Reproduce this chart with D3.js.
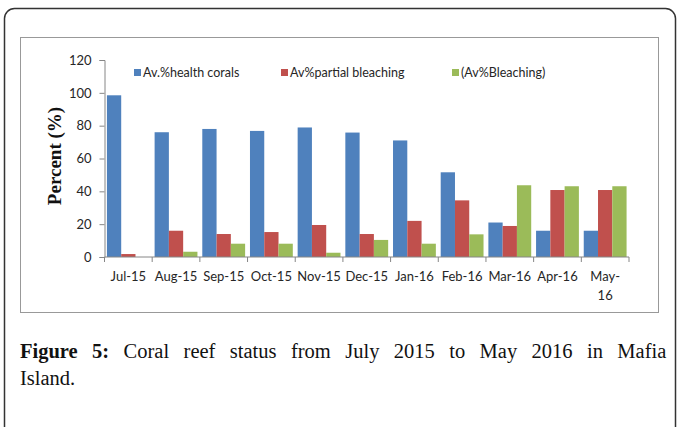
<html>
<head>
<script src="https://d3js.org/d3.v7.min.js"></script>
<style>
  body { margin: 0; background: white; }
  .tick text { font-family: Lato, sans-serif; font-size: 13px; fill: #262626; }
  .legend text { font-family: Lato, sans-serif; font-size: 12.5px; fill: #262626; }
  .caption { font-family: "Liberation Serif", serif; font-size: 20.5px; fill: #111; }
</style>
</head>
<body>
<svg id="chart" width="677" height="427"></svg>
<script>
const months = ["Jul-15","Aug-15","Sep-15","Oct-15","Nov-15","Dec-15","Jan-16","Feb-16","Mar-16","Apr-16","May-16"];
const seriesNames = ["Av.%health corals","Av%partial bleaching","(Av%Bleaching)"];
const healthy = [98.5, 76, 78, 76.8, 78.9, 75.8, 71, 51.6, 21, 16, 16];
const partial = [1.8, 16, 14, 15.2, 19.5, 14, 22, 34.5, 18.9, 40.8, 40.8];
const bleached = [0, 3.2, 8.1, 8.1, 2.6, 10.4, 8.1, 13.8, 43.7, 43.1, 43.1];
const yTicks = [0, 20, 40, 60, 80, 100, 120];
const colors = ["#4F81BD", "#C0504D", "#9BBB59"];

const svg = d3.select("#chart");

// outer frame and chart box
svg.append("rect").attr("x", 4.5).attr("y", 8.5).attr("width", 671).attr("height", 440)
  .attr("rx", 10).attr("fill", "none").attr("stroke", "#333").attr("stroke-width", 1.5);
svg.append("rect").attr("x", 20.5).attr("y", 37.5).attr("width", 638).attr("height", 275)
  .attr("fill", "none").attr("stroke", "#999").attr("stroke-width", 1);

const plotL = 104.5, plotR = 629, plotT = 60, plotB = 257;
const x = d3.scaleBand().domain(months).range([plotL, plotR]);
const xs = d3.scaleBand().domain(seriesNames).range([0, x.bandwidth()]).paddingInner(0).paddingOuter(0.17);
const y = d3.scaleLinear().domain([0, 120]).range([plotB, plotT]);

const table = months.map((m, i) => ({ month: m, values: [healthy[i], partial[i], bleached[i]] }));

svg.append("g").selectAll("g").data(table).join("g")
  .attr("transform", d => `translate(${x(d.month)},0)`)
  .selectAll("rect").data(d => d.values.map((v, j) => ({ name: seriesNames[j], v, j })))
  .join("rect")
  .attr("x", d => xs(d.name))
  .attr("width", xs.bandwidth())
  .attr("y", d => y(d.v))
  .attr("height", d => y(0) - y(d.v))
  .attr("fill", d => colors[d.j]);

// y axis
const yAxis = svg.append("g").attr("transform", `translate(${plotL},0)`)
  .call(d3.axisLeft(y).tickValues(yTicks).tickSize(5).tickPadding(8));
yAxis.select(".domain").attr("stroke", "#868686");
yAxis.selectAll(".tick line").attr("stroke", "#868686");

// x axis
const xAxis = svg.append("g").attr("transform", `translate(0,${plotB})`)
  .call(d3.axisBottom(x).tickSize(0).tickPadding(15));
xAxis.select(".domain").attr("stroke", "#868686").attr("d", `M${plotL},0H${plotR}`);
xAxis.selectAll(".tick line").remove();
xAxis.append("g").selectAll("line").data(months.concat([null])).join("line")
  .attr("x1", (d, i) => plotL + i * x.step()).attr("x2", (d, i) => plotL + i * x.step())
  .attr("y1", 0).attr("y2", 5).attr("stroke", "#868686");
xAxis.selectAll(".tick text").each(function(d) {
  if (d === "May-16") {
    const t = d3.select(this).text(null);
    t.append("tspan").attr("x", 0).text("May-");
    t.append("tspan").attr("x", 0).attr("dy", "1.45em").text("16");
  }
});

// y label
svg.append("text")
  .attr("transform", "translate(61,156) rotate(-90)")
  .attr("text-anchor", "middle")
  .attr("font-family", "Liberation Serif, serif").attr("font-weight", "bold").attr("font-size", 19)
  .attr("fill", "#111").text("Percent (%)");

// legend
const legX = [134, 281, 452];
const leg = svg.append("g").attr("class", "legend");
seriesNames.forEach((n, i) => {
  leg.append("rect").attr("x", legX[i]).attr("y", 69).attr("width", 7).attr("height", 7).attr("fill", colors[i]);
  leg.append("text").attr("x", legX[i] + 9).attr("y", 77).text(n);
});

// caption, first line justified between the box edges
const cap = svg.append("text").attr("class", "caption").attr("x", 20).attr("y", 358);
cap.append("tspan").attr("font-weight", "bold").text("Figure 5:");
cap.append("tspan").text(" Coral reef status from July 2015 to May 2016 in Mafia");
const natural = cap.node().getComputedTextLength();
cap.attr("word-spacing", (637 - natural) / 11);
svg.append("text").attr("class", "caption").attr("x", 20).attr("y", 385).text("Island.");
</script>
</body>
</html>
